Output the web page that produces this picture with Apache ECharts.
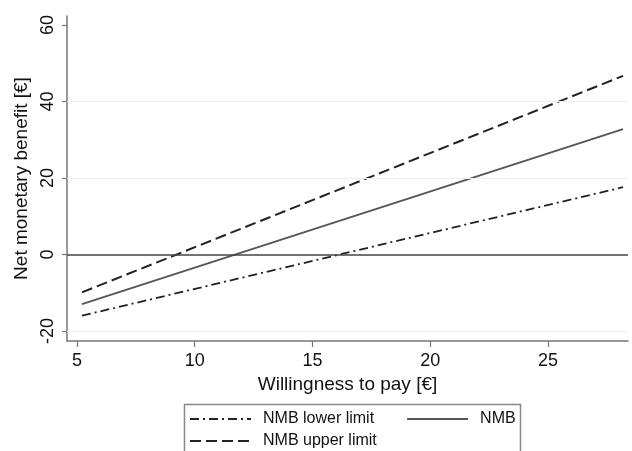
<!DOCTYPE html>
<html>
<head>
<meta charset="utf-8">
<script src="https://cdn.jsdelivr.net/npm/echarts@6/dist/echarts.min.js"></script>
<style>html,body{margin:0;padding:0;background:#fff;}#c{width:632px;height:451px;}</style>
</head>
<body>
<div id="c"></div>
<script>
// Data
const wtp = [5.21, 28.19];
const nmbLower = [-16.0, 17.6];
const nmb = [-13.0, 32.8];
const nmbUpper = [-9.9, 46.7];
const xTicks = [5, 10, 15, 20, 25];
const yTicks = [-20, 0, 20, 40, 60];
const gridLines = [-20, 20, 40];
const refLine = 0;

const font = 'Liberation Sans, Arial, sans-serif';
const chart = echarts.init(document.getElementById('c'), null, {renderer: 'canvas'});

function pairs(xs, ys) { return xs.map((x, i) => [x, ys[i]]); }

const legendCommon = {
  orient: 'horizontal', padding: 0, itemWidth: 61, itemHeight: 14, itemGap: 32,
  textStyle: {fontFamily: font, fontSize: 16, color: '#111', padding: [0, 0, 0, 7]},
  itemStyle: {opacity: 0, borderWidth: 0}
};

chart.setOption({
  animation: false,
  backgroundColor: '#fff',
  grid: {left: 67, right: 4, top: 16, bottom: 110, containLabel: false},
  xAxis: {
    type: 'value', min: 4.575, max: 28.4,
    name: 'Willingness to pay [€]', nameLocation: 'middle', nameGap: 34,
    nameTextStyle: {fontFamily: font, fontSize: 19, color: '#111'},
    axisLine: {show: true, onZero: false, lineStyle: {color: '#777', width: 1.5}},
    axisTick: {show: true, length: 6, customValues: xTicks, lineStyle: {color: '#777', width: 1.2}},
    axisLabel: {customValues: xTicks, fontFamily: font, fontSize: 18, color: '#111', margin: 11},
    splitLine: {show: false}
  },
  yAxis: {
    type: 'value', min: -22.62, max: 62.36,
    name: 'Net monetary benefit [€]', nameLocation: 'middle', nameGap: 31,
    nameTextStyle: {fontFamily: font, fontSize: 19, color: '#111'},
    axisLine: {show: true, onZero: false, lineStyle: {color: '#777', width: 1.5}},
    axisTick: {show: true, length: 5, customValues: yTicks, lineStyle: {color: '#777', width: 1.2}},
    axisLabel: {customValues: yTicks, rotate: 90, fontFamily: font, fontSize: 18, color: '#111', margin: 10},
    splitLine: {show: false}
  },
  legend: [
    Object.assign({data: ['NMB lower limit', 'NMB'], left: 189, top: 411}, legendCommon),
    Object.assign({data: ['NMB upper limit'], left: 189, top: 433}, legendCommon)
  ],
  graphic: [{
    type: 'rect', left: 182, top: 402,
    shape: {width: 336, height: 70},
    style: {fill: 'none', stroke: '#888', lineWidth: 1.5}
  }],
  series: [
    {
      name: 'NMB lower limit', type: 'line', data: pairs(wtp, nmbLower),
      showSymbol: false, symbol: 'none',
      lineStyle: {color: '#222', width: 1.8, type: [9, 4, 2, 4]},
      itemStyle: {color: '#222'},
      markLine: {
        silent: true, symbol: 'none', label: {show: false},
        data: gridLines.map(v => ({yAxis: v, lineStyle: {color: '#eee', width: 1, type: 'solid'}}))
          .concat([{yAxis: refLine, lineStyle: {color: '#444', width: 1.5, type: 'solid'}}])
      }
    },
    {
      name: 'NMB', type: 'line', data: pairs(wtp, nmb),
      showSymbol: false, symbol: 'none',
      lineStyle: {color: '#555', width: 1.8, type: 'solid'},
      itemStyle: {color: '#555'}
    },
    {
      name: 'NMB upper limit', type: 'line', data: pairs(wtp, nmbUpper),
      showSymbol: false, symbol: 'none',
      lineStyle: {color: '#222', width: 2, type: [11, 5]},
      itemStyle: {color: '#222'}
    }
  ]
});
</script>
</body>
</html>
